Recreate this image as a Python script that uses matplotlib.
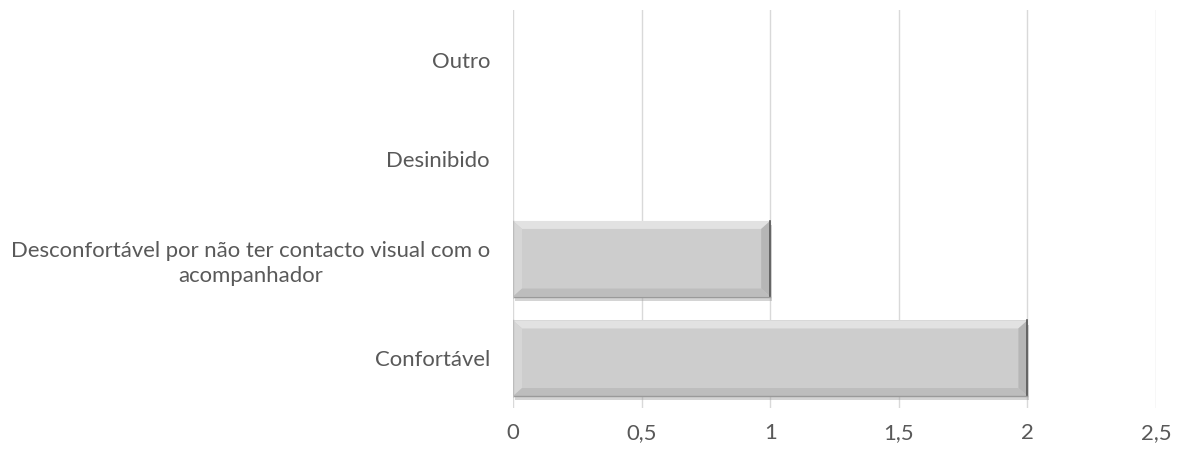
import matplotlib
matplotlib.use("Agg")
import matplotlib.pyplot as plt
from matplotlib.patches import Polygon
import matplotlib.patheffects as pe

# data
categories = ["Confortável",
              "Desconfortável por não ter contacto visual com o\nacompanhador",
              "Desinibido",
              "Outro"]
values = [2, 1, 0, 0]
xticks = [0, 0.5, 1, 1.5, 2, 2.5]
xtick_labels = ["0", "0,5", "1", "1,5", "2", "2,5"]

plt.rcParams['font.family'] = ['Lato', 'DejaVu Sans']

fig = plt.figure(figsize=(11.78, 4.55), dpi=100)
ax = fig.add_axes([513/1178, 1-408/455, (1156-513)/1178, 398/455])

ypos = range(len(categories))
bars = ax.barh(ypos, values, height=0.76, color="#cdcdcd", zorder=3,
               path_effects=[pe.SimplePatchShadow(offset=(1.5, -3), shadow_rgbFace="#a0a0a0", alpha=0.45),
                             pe.Normal()])

ax.set_xlim(0, 2.5)
ax.set_ylim(-0.5, len(categories) - 0.5)

# bevel edges on the bars, sized in pixels
bx = 9 / 257.2
by = 8 / 99.5
for b in bars:
    x0, y0 = b.get_x(), b.get_y()
    w, h = b.get_width(), b.get_height()
    if w <= 0:
        continue
    x1, y1 = x0 + w, y0 + h
    faces = [
        ([(x0, y1), (x1, y1), (x1 - bx, y1 - by), (x0 + bx, y1 - by)], "#e2e2e2"),
        ([(x0, y0), (x0, y1), (x0 + bx, y1 - by), (x0 + bx, y0 + by)], "#d6d6d6"),
        ([(x1, y0), (x1, y1), (x1 - bx, y1 - by), (x1 - bx, y0 + by)], "#b6b6b6"),
        ([(x0, y0), (x1, y0), (x1 - bx, y0 + by), (x0 + bx, y0 + by)], "#bdbdbd"),
    ]
    for pts, c in faces:
        ax.add_patch(Polygon(pts, closed=True, facecolor=c, edgecolor="none", zorder=4))
    ax.plot([x1, x1], [y0, y1], color="#555555", lw=1.2, zorder=5)
    ax.plot([x0, x1], [y0, y0], color="#9a9a9a", lw=1, zorder=5)
    ax.plot([x0, x0], [y0, y1], color="#bcbcbc", lw=1, zorder=5)

ax.set_yticks(list(ypos))
ax.set_yticklabels(categories, multialignment="center", linespacing=1.3)
ax.set_xticks(xticks)
ax.set_xticklabels(xtick_labels)

ax.grid(axis="x", color="#d9d9d9", lw=1, zorder=0)
for s in ax.spines.values():
    s.set_visible(False)
ax.tick_params(axis="both", length=0, colors="#595959", labelsize=15.9)
ax.tick_params(axis="y", pad=16.5)
ax.tick_params(axis="x", pad=11)

fig.savefig("out.png", dpi=100)
